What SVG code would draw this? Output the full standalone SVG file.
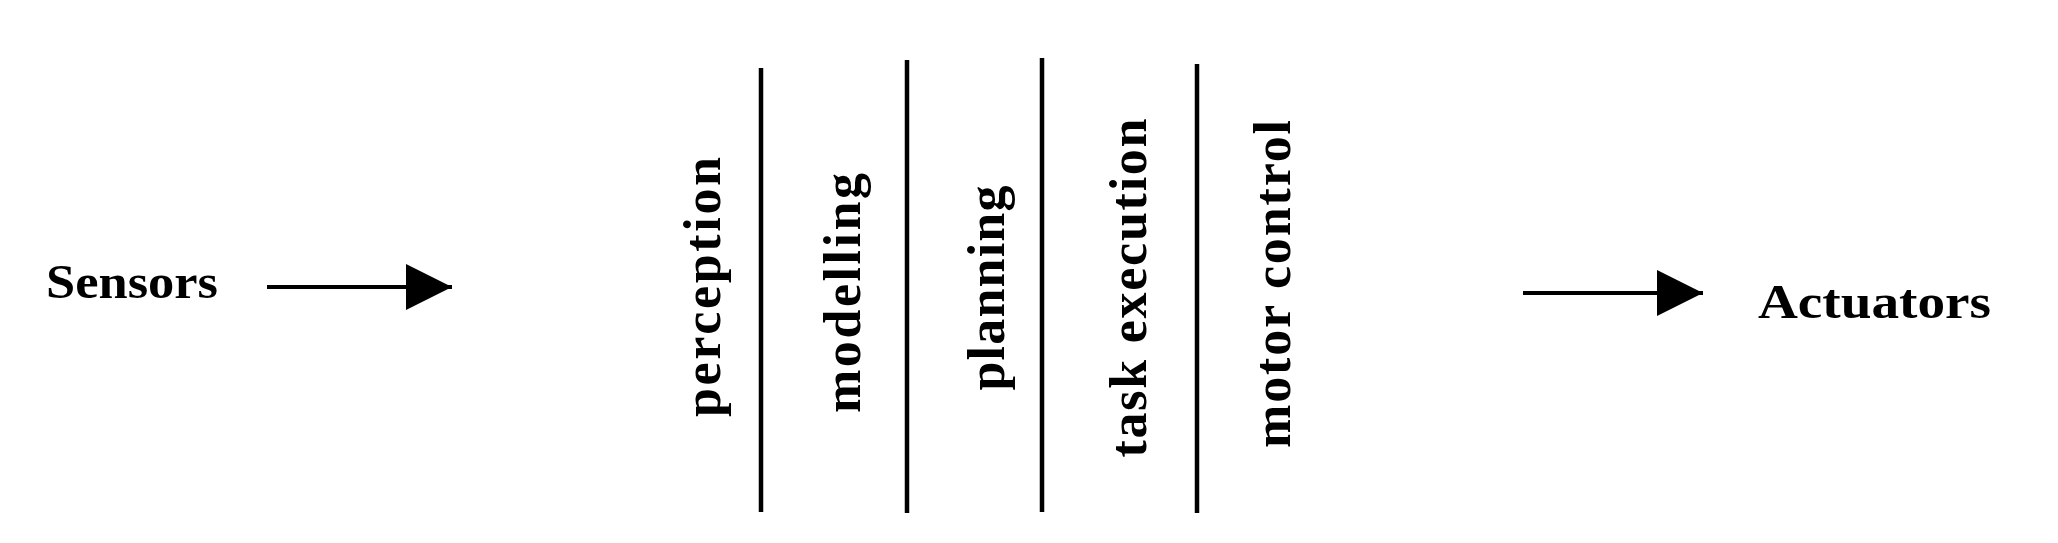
<svg xmlns="http://www.w3.org/2000/svg" width="2058" height="543" viewBox="0 0 2058 543">
  <style>
    .lbl { font-family: "Liberation Serif", "Times New Roman", serif; font-weight: bold; fill: #000; }
    .layer { font-size: 52px; }
    .io { font-size: 48px; }
    .sep { stroke: #000; stroke-width: 4.5; fill: none; }
    .conn { stroke: #000; stroke-width: 4; fill: none; }
  </style>
  <defs>
    <marker id="head" markerUnits="userSpaceOnUse" markerWidth="48" markerHeight="48" refX="46" refY="23" orient="auto">
      <path d="M0,0 L46,23 L0,46 Z" fill="#000"/>
    </marker>
  </defs>
  <rect width="2058" height="543" fill="#fff"/>

  <g id="sensors">
    <text class="lbl io" x="46" y="298" textLength="172" lengthAdjust="spacingAndGlyphs">Sensors</text>
  </g>

  <g id="actuators">
    <text class="lbl io" x="1758" y="318" textLength="233" lengthAdjust="spacingAndGlyphs">Actuators</text>
  </g>

  <g id="layers">
    <g id="separators">
      <line class="sep" x1="761" y1="68" x2="761" y2="512"/>
      <line class="sep" x1="907" y1="60" x2="907" y2="513"/>
      <line class="sep" x1="1042" y1="58" x2="1042" y2="512"/>
      <line class="sep" x1="1197" y1="64" x2="1197" y2="513"/>
    </g>
    <g id="perception">
      <text class="lbl layer" transform="translate(720,287) rotate(-90)" text-anchor="middle" textLength="260" lengthAdjust="spacing">perception</text>
    </g>
    <g id="modelling">
      <text class="lbl layer" transform="translate(860,293) rotate(-90)" text-anchor="middle" textLength="240" lengthAdjust="spacing">modelling</text>
    </g>
    <g id="planning">
      <text class="lbl layer" transform="translate(1004,288) rotate(-90)" text-anchor="middle" textLength="205" lengthAdjust="spacing">planning</text>
    </g>
    <g id="task-execution">
      <text class="lbl layer" transform="translate(1146,288) rotate(-90)" text-anchor="middle" textLength="339" lengthAdjust="spacing">task execution</text>
    </g>
    <g id="motor-control">
      <text class="lbl layer" transform="translate(1290,284) rotate(-90)" text-anchor="middle" textLength="328" lengthAdjust="spacing">motor control</text>
    </g>
  </g>

  <g id="connectors">
    <line class="conn" x1="267" y1="287" x2="452" y2="287" marker-end="url(#head)"/>
    <line class="conn" x1="1523" y1="293" x2="1703" y2="293" marker-end="url(#head)"/>
  </g>
</svg>
